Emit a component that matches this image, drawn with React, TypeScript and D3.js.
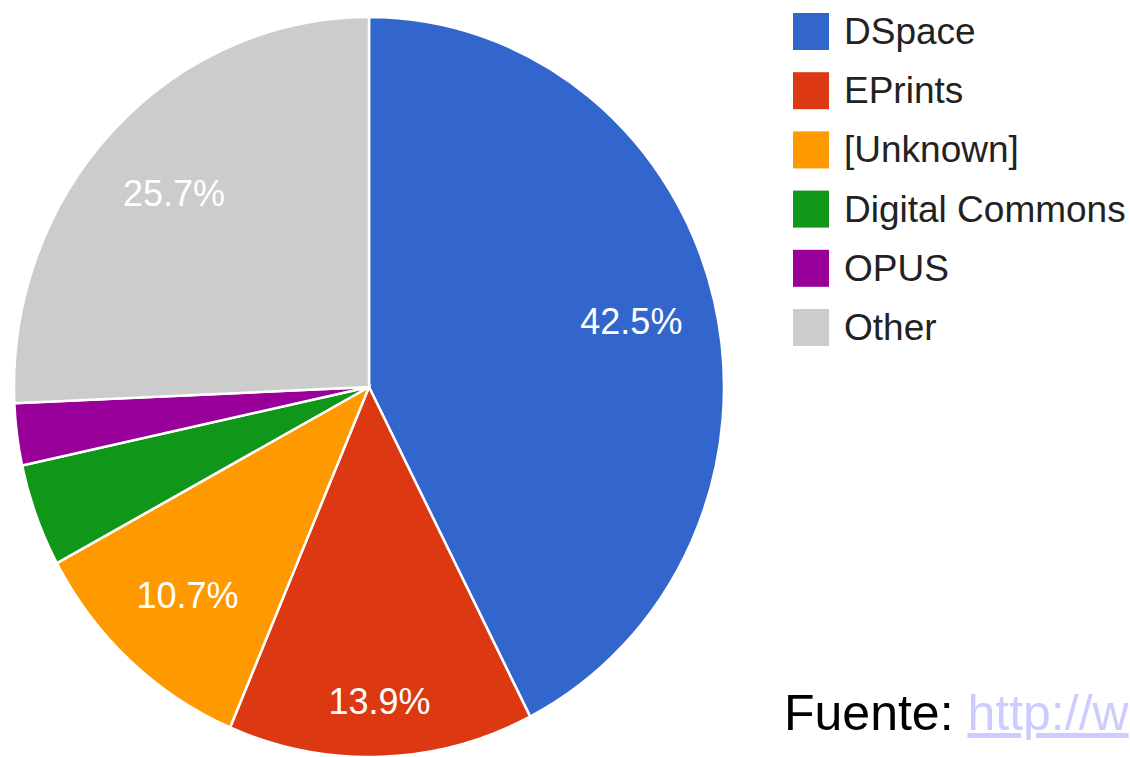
import React, { useEffect, useRef } from "react";
import * as d3 from "d3";

const categories = ["DSpace", "EPrints", "[Unknown]", "Digital Commons", "OPUS", "Other"];
const shares = [42.5, 13.9, 10.7, 4.5, 2.7, 25.7];
const colors = ["#3366cc", "#dc3912", "#ff9900", "#109618", "#990099", "#cccccc"];
const shownLabels = ["42.5%", "13.9%", "10.7%", "", "", "25.7%"];

const W = 1130;
const H = 757;

export default function App() {
  const el = useRef<SVGSVGElement | null>(null);

  useEffect(() => {
    const svg = d3.select(el.current);
    svg.selectAll("*").remove();

    const data = categories.map((c, i) => ({ name: c, value: shares[i], label: shownLabels[i], color: colors[i] }));
    const R = 360;
    const rx = 355;
    const ry = 370;
    const pie = d3.pie<any>().value((d) => d.value).sort(null);
    const arc = d3.arc<any>().innerRadius(0).outerRadius(R);
    // the narrow bottom slice gets its label pushed a bit further out, as in the original
    const labelPos = (d: any) => {
      const k = d.data.name === "EPrints" ? 0.85 : 0.76;
      return d3.arc<any>().innerRadius(R * k).outerRadius(R * k).centroid(d);
    };
    const arcs = pie(data);

    const g = svg.append("g")
      .attr("transform", `translate(369,387) scale(${rx / R},${ry / R})`);

    g.selectAll("path")
      .data(arcs)
      .join("path")
      .attr("d", arc)
      .attr("fill", (d) => d.data.color)
      .attr("stroke", "#ffffff")
      .attr("stroke-width", 2.5)
      .attr("vector-effect", "non-scaling-stroke");

    g.selectAll("text")
      .data(arcs.filter((d) => d.data.label))
      .join("text")
      .attr("transform", (d) => {
        const [x, y] = labelPos(d);
        return `translate(${x},${y}) scale(${R / rx},${R / ry})`;
      })
      .attr("text-anchor", "middle")
      .attr("dy", "0.36em")
      .attr("fill", "#ffffff")
      .attr("font-family", "Liberation Sans, Arial, sans-serif")
      .attr("font-size", 36)
      .text((d) => d.data.label);

    // legend
    const legend = svg.append("g").attr("transform", "translate(793,13)");
    const row = legend.selectAll("g")
      .data(data)
      .join("g")
      .attr("transform", (d, i) => `translate(0,${i * 59.2})`);
    row.append("rect")
      .attr("width", 36)
      .attr("height", 37)
      .attr("fill", (d) => d.color);
    row.append("text")
      .attr("x", 51)
      .attr("y", 31)
      .attr("fill", "#222222")
      .attr("font-family", "Liberation Sans, Arial, sans-serif")
      .attr("font-size", 37)
      .text((d) => d.name);

    // source note, cut at the right edge like the original
    const src = svg.append("text")
      .attr("x", 784)
      .attr("y", 730)
      .attr("font-family", "Liberation Sans, Arial, sans-serif")
      .attr("font-size", 50);
    src.append("tspan").attr("fill", "#000000").text("Fuente: ");
    src.append("tspan")
      .attr("fill", "#ccccff")
      .attr("text-decoration", "underline")
      .text("http://w");
  }, []);

  return (
    <div style={{ position: "absolute", left: 0, top: 0, width: W, height: H, overflow: "hidden", background: "#ffffff" }}>
      <svg ref={el} width={W} height={H} />
    </div>
  );
}
